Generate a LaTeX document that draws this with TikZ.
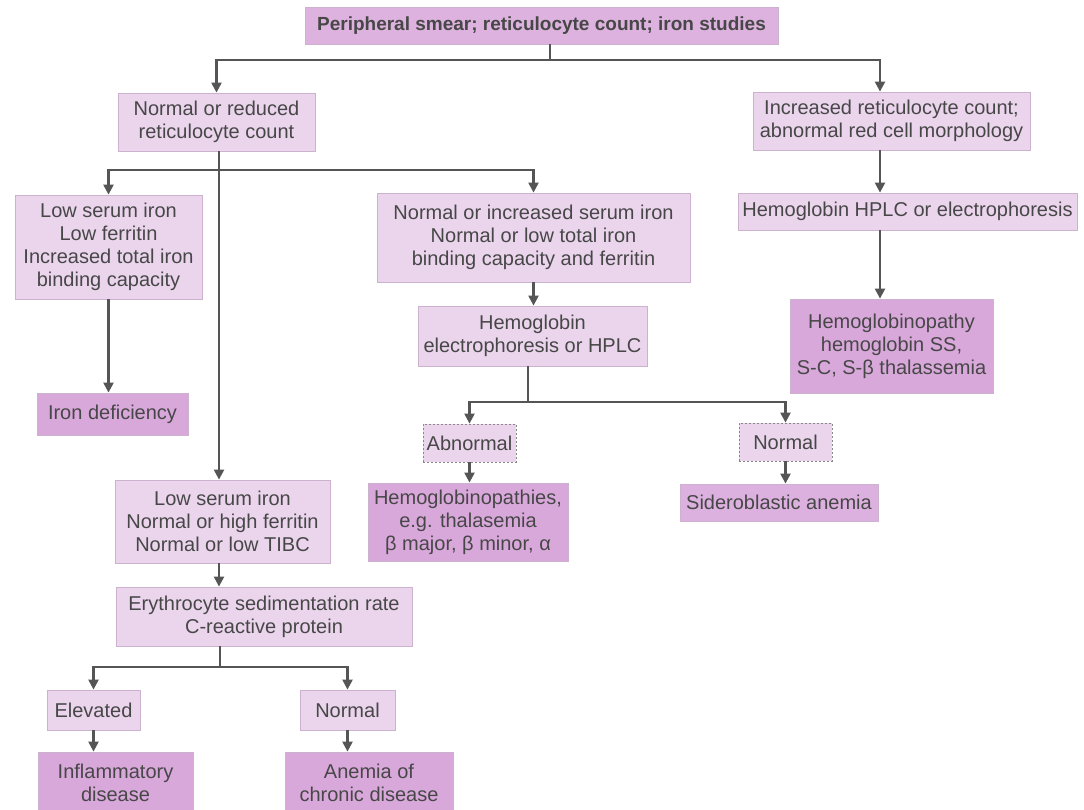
\documentclass[tikz,border=0pt]{standalone}
\usepackage{fontspec}
\setmainfont{Liberation Sans}
\usetikzlibrary{arrows.meta}
\definecolor{lightbox}{HTML}{EBD5ED}
\definecolor{darkbox}{HTML}{D9A8DB}
\definecolor{topbox}{HTML}{DDB2DF}
\definecolor{boxline}{HTML}{CDB2D0}
\definecolor{txt}{HTML}{474747}
\definecolor{conn}{HTML}{555555}
\tikzset{
  box/.style={draw=boxline, line width=0.8pt, fill=lightbox, text=txt, inner sep=0pt,
    align=center, font=\fontsize{20}{23}\selectfont},
  dbox/.style={box, fill=darkbox},
  dashbox/.style={box, draw=conn!70, dashed, dash pattern=on 2pt off 2pt},
  conline/.style={draw=conn, line width=2.2pt},
  arr/.style={conline, -{Triangle[length=10pt,width=10pt]}},
}
\begin{document}
\begin{tikzpicture}[x=1pt,y=-1pt]
\useasboundingbox (0,0) rectangle (1084,809);
% nodes
\node[box, fill=topbox, minimum width=473, minimum height=37, font=\fontsize{19}{22}\selectfont\bfseries] (top) at (541.5,25.5) {Peripheral smear; reticulocyte count; iron studies};
\node[box, minimum width=197, minimum height=58] (A) at (216.5,122) {Normal or reduced\\reticulocyte count};
\node[box, minimum width=277, minimum height=58] (B) at (891.5,121) {Increased reticulocyte count;\\abnormal red cell morphology};
\node[box, minimum width=339, minimum height=37] (C) at (907.5,211.5) {Hemoglobin HPLC or electrophoresis};
\node[dbox, minimum width=203, minimum height=94] (P) at (891.5,346) {Hemoglobinopathy\\hemoglobin SS,\\S-C, S-β thalassemia};
\node[box, minimum width=187, minimum height=104] (F) at (108.5,247) {Low serum iron\\Low ferritin\\Increased total iron\\binding capacity};
\node[box, minimum width=313, minimum height=89] (D) at (533.5,237.5) {Normal or increased serum iron\\Normal or low total iron\\binding capacity and ferritin};
\node[box, minimum width=229, minimum height=60] (E) at (532.5,336) {Hemoglobin\\electrophoresis or HPLC};
\node[dbox, minimum width=151, minimum height=42] (G) at (112.5,414) {Iron deficiency};
\node[box, minimum width=215, minimum height=83] (H) at (222.5,521.5) {Low serum iron\\Normal or high ferritin\\Normal or low TIBC};
\node[dashbox, minimum width=93, minimum height=38] (Abn) at (469.5,443) {Abnormal};
\node[dashbox, minimum width=93, minimum height=38] (Nm) at (785.5,442) {Normal};
\node[dbox, minimum width=200, minimum height=78] (Hbp) at (468,522) {Hemoglobinopathies,\\e.g. thalasemia\\β major, β minor, α};
\node[dbox, fill=darkbox!80!lightbox, minimum width=198, minimum height=37] (Sid) at (779,502.5) {Sideroblastic anemia};
\node[box, minimum width=296, minimum height=59] (I) at (264,616.5) {Erythrocyte sedimentation rate\\C-reactive protein};
\node[box, minimum width=93, minimum height=40] (Elev) at (93.5,710) {Elevated};
\node[box, minimum width=95, minimum height=40] (Nb) at (347.5,710) {Normal};
\node[dbox, minimum width=155, minimum height=62] (Infl) at (115.5,783) {Inflammatory\\disease};
\node[dbox, minimum width=168, minimum height=62] (Anem) at (369,783) {Anemia of\\chronic disease};
% junction coordinates
\coordinate (j0) at (550,60);
\coordinate (rx) at (880,0);
\coordinate (j1) at (219,170);
\coordinate (j2) at (528,402);
\coordinate (j3) at (220,667);
% connectors
\draw[conline] (top.south -| j0) -- (j0);
\draw[arr] (j0) -| (A.north);
\draw[arr] (j0) -| (B.north -| rx);
\draw[arr] (B.south -| rx) -- (C.north -| rx);
\draw[arr] (C.south -| rx) -- (P.north -| rx);
\draw[conline] (A.south -| j1) -- (j1);
\draw[arr] (j1) -| (F.north);
\draw[arr] (j1) -| (D.north);
\draw[arr] (j1) -- (H.north -| j1);
\draw[arr] (F.south) -- (F.south |- G.north);
\draw[arr] (D.south) -- (D.south |- E.north);
\draw[conline] (E.south -| j2) -- (j2);
\draw[arr] (j2) -| (Abn.north);
\draw[arr] (j2) -| (Nm.north);
\draw[arr] (Abn.south) -- (Abn.south |- Hbp.north);
\draw[arr] (Nm.south) -- (Nm.south |- Sid.north);
\draw[arr] (H.south -| j1) -- (I.north -| j1);
\draw[conline] (I.south -| j3) -- (j3);
\draw[arr] (j3) -| (Elev.north);
\draw[arr] (j3) -| (Nb.north);
\draw[arr] (Elev.south) -- (Elev.south |- Infl.north);
\draw[arr] (Nb.south) -- (Nb.south |- Anem.north);
\end{tikzpicture}
\end{document}
